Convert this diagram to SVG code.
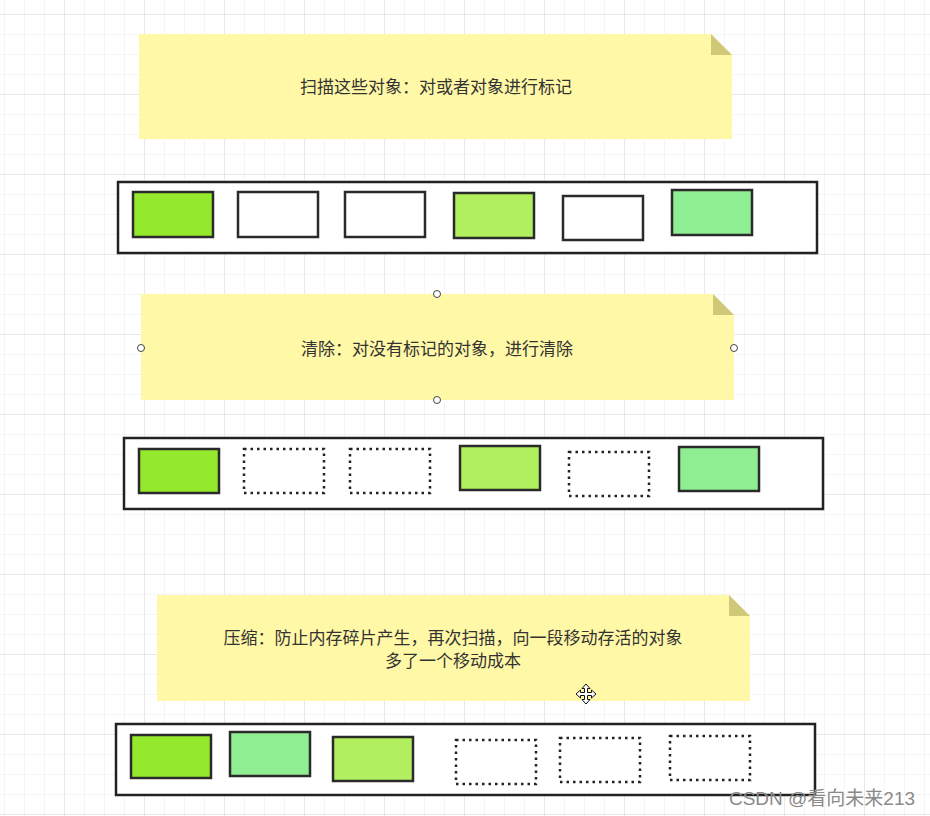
<svg xmlns="http://www.w3.org/2000/svg" width="930" height="816" viewBox="0 0 930 816">
<defs>
<pattern id="minor" x="4" y="14" width="20" height="20" patternUnits="userSpaceOnUse">
<path d="M0 0H20M0 0V20" fill="none" stroke="#ebebeb" stroke-width="1"/>
</pattern>
<pattern id="major" x="64" y="14" width="80" height="80" patternUnits="userSpaceOnUse">
<path d="M0 0H80M0 0V80" fill="none" stroke="#dedede" stroke-width="1"/>
</pattern>
</defs>
<style>
.note{fill:#fff8a6}
.fold{fill:#cfc878}
.t{font-family:"Noto Sans CJK SC","Liberation Sans",sans-serif;font-size:17px;fill:#333;text-anchor:middle}
.bar{fill:#fff;stroke:#222;stroke-width:2.5}
.g1{fill:#95e92d;stroke:#2a2a2a;stroke-width:2.5}
.g2{fill:#b2ef5e;stroke:#2a2a2a;stroke-width:2.5}
.g3{fill:#90ee92;stroke:#2a2a2a;stroke-width:2.5}
.w{fill:#fff;stroke:#2a2a2a;stroke-width:2.5}
.d{fill:#fff;stroke:#222;stroke-width:2.5;stroke-dasharray:2.5 4}
.h{fill:#fff;stroke:#444;stroke-width:1}
</style>
<rect width="930" height="816" fill="#fff"/>
<rect width="930" height="816" fill="url(#minor)"/>
<rect width="930" height="816" fill="url(#major)"/>

<g id="note1">
<path class="note" d="M139 34H711L732 55V139H139Z"/>
<path class="fold" d="M711 34L732 55H711Z"/>
<text class="t" x="436" y="93">扫描这些对象：对或者对象进行标记</text>
</g>

<g id="bar1">
<rect class="bar" x="118" y="182" width="699" height="71"/>
<rect class="g1" x="133" y="192" width="80" height="45"/>
<rect class="w" x="238" y="192" width="80" height="45"/>
<rect class="w" x="345" y="192" width="80" height="45"/>
<rect class="g2" x="454" y="193" width="80" height="45"/>
<rect class="w" x="563" y="196" width="80" height="44"/>
<rect class="g3" x="672" y="190" width="80" height="45"/>
</g>

<g id="note2">
<path class="note" d="M141 294H713L734 315V400H141Z"/>
<path class="fold" d="M713 294L734 315H713Z"/>
<text class="t" x="437" y="355">清除：对没有标记的对象，进行清除</text>
<circle class="h" cx="437" cy="294" r="3.5"/>
<circle class="h" cx="141" cy="348" r="3.5"/>
<circle class="h" cx="734" cy="348" r="3.5"/>
<circle class="h" cx="437" cy="400" r="3.5"/>
</g>

<g id="bar2">
<rect class="bar" x="124" y="438" width="699" height="71"/>
<rect class="g1" x="139" y="449" width="80" height="44"/>
<rect class="d" x="244" y="449" width="80" height="44"/>
<rect class="d" x="350" y="449" width="80" height="44"/>
<rect class="g2" x="460" y="446" width="80" height="44"/>
<rect class="d" x="569" y="452" width="80" height="44"/>
<rect class="g3" x="679" y="447" width="80" height="44"/>
</g>

<g id="note3">
<path class="note" d="M157 595H729L750 616V701H157Z"/>
<path class="fold" d="M729 595L750 616H729Z"/>
<text class="t" x="453" y="644">压缩：防止内存碎片产生，再次扫描，向一段移动存活的对象</text>
<text class="t" x="453" y="667">多了一个移动成本</text>
</g>

<g id="cursor" transform="translate(586 694)">
<path d="M0 -10L-4 -5.5H-1.5V-1.5H-5.5V-4L-10 0L-5.5 4V1.5H-1.5V5.5H-4L0 10L4 5.5H1.5V1.5H5.5V4L10 0L5.5 -4V-1.5H1.5V-5.5H4Z" fill="#fff" stroke="#111" stroke-width="1"/>
</g>

<g id="bar3">
<rect class="bar" x="116" y="724" width="699" height="71"/>
<rect class="g1" x="131" y="735" width="80" height="43"/>
<rect class="g3" x="230" y="732" width="80" height="44"/>
<rect class="g2" x="333" y="737" width="80" height="44"/>
<rect class="d" x="456" y="740" width="80" height="44"/>
<rect class="d" x="560" y="738" width="80" height="44"/>
<rect class="d" x="670" y="736" width="80" height="44"/>
</g>

<g id="connectors"/>

<text x="822" y="805" style="font-family:'Liberation Sans','Noto Sans CJK SC',sans-serif;font-size:19px;fill:#8a8a8a;text-anchor:middle">CSDN @看向未来213</text>
</svg>
